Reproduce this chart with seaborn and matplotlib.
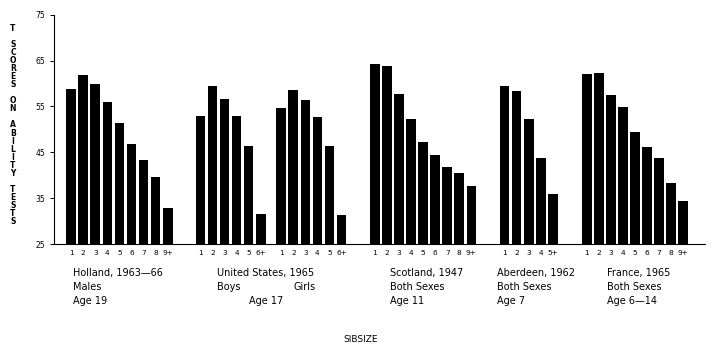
import matplotlib
matplotlib.use("Agg")
import matplotlib.pyplot as plt
import seaborn as sns
import pandas as pd

# ---- data ----
holland = [58.9, 61.8, 59.9, 55.9, 51.3, 46.9, 43.3, 39.7, 32.9]
us_boys = [53.0, 59.5, 56.7, 53.0, 46.4, 31.5]
us_girls = [54.7, 58.5, 56.3, 52.8, 46.4, 31.3]
scotland = [64.2, 63.8, 57.7, 52.2, 47.3, 44.3, 41.7, 40.5, 37.6]
aberdeen = [59.4, 58.3, 52.2, 43.7, 35.8]
france = [62.0, 62.3, 57.5, 54.8, 49.5, 46.1, 43.7, 38.4, 34.4]

labels9 = ["1", "2", "3", "4", "5", "6", "7", "8", "9+"]
labels6 = ["1", "2", "3", "4", "5", "6+"]
labels5 = ["1", "2", "3", "4", "5+"]

yticks = [25, 35, 45, 55, 65, 75]

group_text = [
    ["Holland, 1963\u201466", "Males", "Age 19"],
    ["United States, 1965", "Boys", ""],
    ["Scotland, 1947", "Both Sexes", "Age 11"],
    ["Aberdeen, 1962", "Both Sexes", "Age 7"],
    ["France, 1965", "Both Sexes", "Age 6\u201414"],
]
ylabel_words = ["T", "SCORES", "ON", "ABILITY", "TESTS"]
xlabel = "SIBSIZE"

# ---- layout (slot offsets of each group along the axis) ----
series = [holland, us_boys, us_girls, scotland, aberdeen, france]
series_labels = [labels9, labels6, labels6, labels9, labels5, labels9]
starts = [0.0, 10.7, 17.4, 25.15, 35.9, 42.7]

rows = []
for s, (vals, labs, st) in enumerate(zip(series, series_labels, starts)):
    for i, (v, l) in enumerate(zip(vals, labs)):
        rows.append({"pos": round(st + i, 3), "score": v, "sib": l})
df = pd.DataFrame(rows)

sns.set_style("white")
plt.rcParams["font.family"] = ["DejaVu Sans"]
plt.rcParams["text.color"] = "black"
plt.rcParams["xtick.color"] = "black"
plt.rcParams["ytick.color"] = "black"
plt.rcParams["axes.labelcolor"] = "black"

W, H = 711, 350
fig = plt.figure(figsize=(W / 100, H / 100), dpi=100)
ax = fig.add_axes([54 / W, 1 - 244 / H, (705 - 54) / W, (244 - 14.7) / H])

sns.barplot(data=df, x="pos", y="score", native_scale=True, color="black",
            saturation=1, width=0.8, linewidth=0, ax=ax, errorbar=None)

ax.set_ylim(25, 75)
ax.set_xlim(-1.42, 52.5)
ax.set_yticks(yticks)
ax.set_yticklabels([str(t) for t in yticks], fontsize=5.5)
ax.set_xticks(df["pos"].tolist())
ax.set_xticklabels(df["sib"].tolist(), fontsize=5.3)
ax.tick_params(axis="x", length=0, pad=4.5, colors="black")
ax.tick_params(axis="y", direction="out", length=3, width=0.7, pad=3.5,
               left=True, colors="black")
ax.set_xlabel("")
ax.set_ylabel("")
for side in ["top", "right"]:
    ax.spines[side].set_visible(False)
for side in ["left", "bottom"]:
    ax.spines[side].set_visible(True)
    ax.spines[side].set_color("black")
    ax.spines[side].set_linewidth(0.8)

# y-axis label: stacked letters
stack = "\n \n".join("\n".join(w) for w in ylabel_words)
fig.text(13 / W, 1 - 125 / H, stack, ha="center", va="center",
         fontsize=5.5, linespacing=0.86, fontweight="bold", color="black")

# group descriptions
line_y = [272.7, 286.7, 300.7]
text_x = [72.7, 216.7, 390, 496.7, 606.7]
for x, lines in zip(text_x, group_text):
    for yy, t in zip(line_y, lines):
        if t:
            fig.text(x / W, 1 - yy / H, t, ha="left", va="center", fontsize=7,
                     color="black")
fig.text(293 / W, 1 - line_y[1] / H, "Girls", ha="left", va="center",
         fontsize=7, color="black")
fig.text(249 / W, 1 - line_y[2] / H, "Age 17", ha="left", va="center",
         fontsize=7, color="black")

fig.text(361 / W, 1 - 339 / H, xlabel, ha="center", va="center",
         fontsize=6.5, color="black")

fig.savefig("out.png", dpi=100)
